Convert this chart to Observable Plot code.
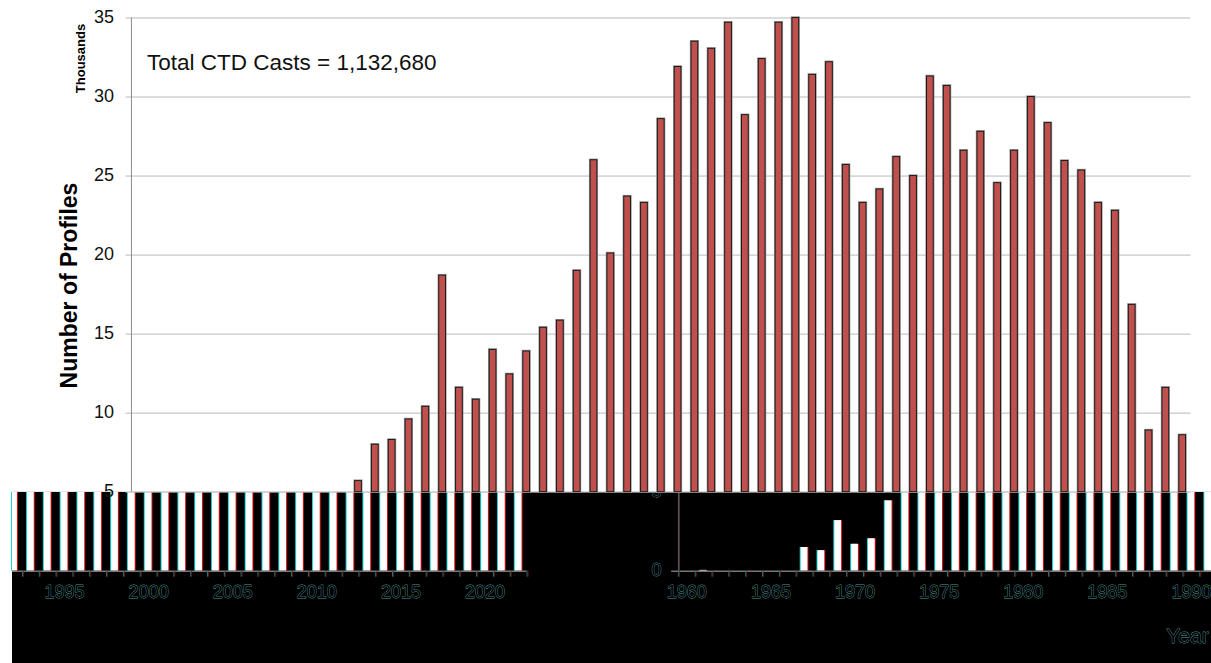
<!DOCTYPE html>
<html>
<head>
<meta charset="utf-8">
<style>
html,body{margin:0;padding:0;background:#fff;overflow:hidden}
svg{display:block}
</style>
<script src="https://cdn.jsdelivr.net/npm/d3@7"></script>
<script src="https://cdn.jsdelivr.net/npm/@observablehq/plot@0.6"></script>
</head>
<body>
<script>
const years = [1960,1961,1962,1963,1964,1965,1966,1967,1968,1969,
  1970,1971,1972,1973,1974,1975,1976,1977,1978,1979,
  1980,1981,1982,1983,1984,1985,1986,1987,1988,1989,
  1990,1991,1992,1993,1994,1995,1996,1997,1998,1999,
  2000,2001,2002,2003,2004,2005,2006,2007,2008,2009,
  2010,2011,2012,2013,2014,2015,2016,2017,2018,2019,
  2020,2021,2022];
const profiles = [0,0.05,0,0,0,0,0,1.5,1.3,3.2,
  1.7,2.05,4.45,5.7,8,8.3,9.6,10.4,18.7,11.6,
  10.85,14,12.45,13.9,15.4,15.85,19,26,20.1,23.7,
  23.3,28.6,31.9,33.5,33.05,34.7,28.85,32.4,34.7,35,
  31.4,32.2,25.7,23.3,24.15,26.2,25,31.3,30.7,26.6,
  27.8,24.55,26.6,30,28.35,25.95,25.35,23.3,22.8,16.85,
  8.9,11.6,8.6];
const yTicks = [5,10,15,20,25,30,35];
const yearLabels = [1960,1965,1970,1975,1980,1985,1990,1995,2000,2005,2010,2015,2020];
const noteText = "Total CTD Casts = 1,132,680";
const yLabelText = "Number of Profiles";
const unitText = "Thousands";
const xLabelText = "Year";

// Layout of the picture: a linear year scale; the part under y = 5 is displaced
// sideways with wrap-around and shown in inverted colours.
const W = 1211, H = 663;
const pxPerYear = 16.82, pxPerUnit = 15.806;
const x0 = 1973 - 358 / pxPerYear;
const period = W / pxPerYear;
const shift = 547 / pxPerYear;
const y0 = -(H - 570.7) / pxPerUnit;
const y1 = (570.7) / pxPerUnit;
const xAt = px => x0 + px / pxPerYear;
const yAt = py => (570.7 - py) / pxPerUnit;
const wrap = v => x0 + (((v + shift - x0) % period) + period) % period;

const rows = years.map((year, i) => ({year, value: profiles[i]}));
const barHalf = 0.2, slotEdge = 0.5;
const upper = rows.filter(d => d.value > 5);
const lower = rows.filter(d => d.value > 0).map(d => ({
  c: wrap(d.year), top: Math.min(d.value, 5)
}));
const edges = [...years.map(y => y - slotEdge), 2022.5].filter(v => wrap(v) > xAt(12));

const lowerBar = (fill, dx) => Plot.rect(lower, {
  x1: d => Math.max(d.c - barHalf, xAt(12)), x2: d => d.c + barHalf, y1: 0, y2: d => d.top, fill, dx
});
const outlined = {fill: "#000", stroke: "#4f9a98", strokeWidth: 0.8, fontFamily: "Liberation Sans"};

const chart = Plot.plot({
  width: W, height: H,
  marginTop: 0, marginRight: 0, marginBottom: 0, marginLeft: 0,
  x: {type: "linear", domain: [x0, x0 + period], range: [0, W], axis: null},
  y: {type: "linear", domain: [y0, y1], range: [H, 0], axis: null},
  style: {background: "#fff", fontFamily: "Liberation Sans", overflow: "hidden"},
  marks: [
    // displaced lower part
    Plot.rect([0], {x1: xAt(12), x2: x0 + period, y1: y0, y2: 5, fill: "#000"}),
    lowerBar("#19d6d6", -1),
    lowerBar("#e01010", 1),
    lowerBar("#fff", 0),
    Plot.ruleY([0], {x1: wrap(1959.5) - 0.4, x2: x0 + period, stroke: "#777", strokeWidth: 1.5}),
    Plot.ruleY([0], {x1: xAt(12), x2: wrap(2022.5), stroke: "#777", strokeWidth: 1.5}),
    Plot.ruleX(edges, {x: wrap, y1: 0, y2: -0.38, stroke: "#1f7878", strokeWidth: 1}),
    Plot.ruleX(edges, {x: wrap, y1: 0, y2: -0.38, stroke: "#8c1a1a", strokeWidth: 1, dx: 1, strokeOpacity: 0.7}),
    Plot.ruleX([1959.5], {x: wrap, y1: 0, y2: 5, stroke: "#1f7878", strokeWidth: 1}),
    Plot.ruleX([1959.5], {x: wrap, y1: 0, y2: 5, stroke: "#8c1a1a", strokeWidth: 1, dx: 1}),
    Plot.text(yearLabels, {x: wrap, y: yAt(592), text: d => String(d), fontSize: 18, ...outlined}),
    Plot.text([0, 5], {x: wrap(1959.5) - 22 / pxPerYear, y: d => d, dy: -1, text: d => String(d), fontSize: 18, ...outlined}),
    Plot.text([xLabelText], {x: xAt(1187), y: yAt(636), fontSize: 21, ...outlined}),
    // upper part
    Plot.rect([0], {x1: x0, x2: x0 + period, y1: 5, y2: y1, fill: "#fff"}),
    Plot.ruleY(yTicks, {x1: 1959.5 - 0.32, x2: 2022.5, stroke: "#b9b9b9", strokeWidth: 1}),
    Plot.ruleX([1959.5], {y1: 5, y2: 35, stroke: "#8a8a8a", strokeWidth: 1}),
    Plot.rect(upper, {
      x1: d => d.year - barHalf, x2: d => d.year + barHalf, y1: 5, y2: "value",
      fill: "none", stroke: "#9a9a9a", strokeWidth: 2.4
    }),
    Plot.rect(upper, {
      x1: d => d.year - barHalf, x2: d => d.year + barHalf, y1: 5, y2: "value",
      fill: "#c0504d", stroke: "#1c1c1c", strokeWidth: 1
    }),
    Plot.text(yTicks, {
      x: 1959.5 - 17.5 / pxPerYear, y: d => d, dy: -1, text: d => String(d),
      textAnchor: "end", fontSize: 18, fill: "#111"
    }),
    Plot.text([unitText], {x: xAt(80), y: yAt(58), rotate: -90, fontSize: 13, fontWeight: "bold", fill: "#000"}),
    Plot.text([yLabelText], {x: xAt(69), y: yAt(285), rotate: -90, fontSize: 23, fontWeight: "bold", fill: "#000"}),
    Plot.text([noteText], {x: xAt(146.5), y: yAt(62), textAnchor: "start", fontSize: 22.5, fill: "#111"})
  ]
});
document.body.appendChild(chart);
</script>
</body>
</html>
